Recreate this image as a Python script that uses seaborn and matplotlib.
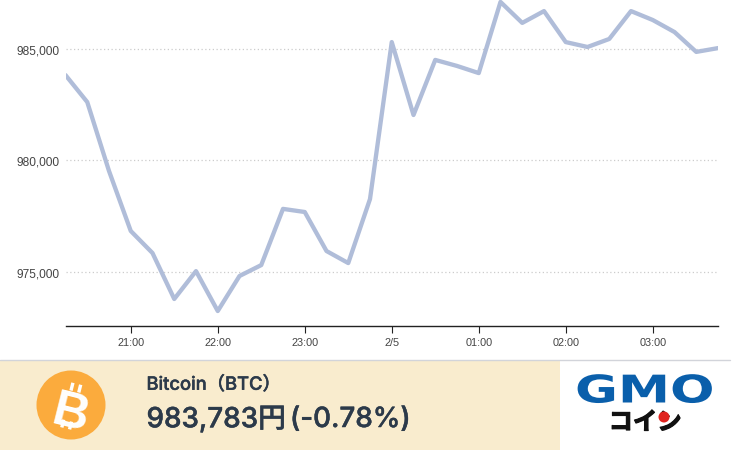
import matplotlib
matplotlib.use("Agg")
import matplotlib.pyplot as plt
import matplotlib.patheffects as pe
from matplotlib.patches import Circle, Rectangle
from matplotlib.transforms import Affine2D
import pandas as pd
import seaborn as sns

times = pd.date_range("2021-02-04 20:15", periods=31, freq="15min")
prices = [
    983830, 982620, 979530, 976840, 975850, 973790, 975040, 973250,
    974820, 975310, 977830, 977690, 975940, 975400, 978270, 985310,
    982040, 984510, 984240, 983920, 987110, 986170, 986700, 985310,
    985090, 985450, 986700, 986300, 985760, 984870, 985040,
]
xticks = pd.to_datetime([
    "2021-02-04 21:00", "2021-02-04 22:00", "2021-02-04 23:00", "2021-02-05 00:00",
    "2021-02-05 01:00", "2021-02-05 02:00", "2021-02-05 03:00",
])
xtick_labels = ["21:00", "22:00", "23:00", "2/5", "01:00", "02:00", "03:00"]
yticks = [975000, 980000, 985000]

W, H = 740, 460
JP = ["Inter", "Noto Sans CJK JP", "DejaVu Sans"]
INK = "#2c3a4a"


class Stretch(pe.AbstractPathEffect):
    # widen glyphs sideways, the text stays a text object
    def __init__(self, sx):
        super().__init__()
        self.sx = sx

    def draw_path(self, renderer, gc, tpath, affine, rgbFace=None):
        renderer.draw_path(gc, tpath, Affine2D().scale(self.sx, 1) + affine, rgbFace)


sns.set_theme(style="white", rc={"font.family": ["Liberation Sans", "DejaVu Sans"]})

fig = plt.figure(figsize=(W / 100, H / 100), dpi=100, facecolor="white")
ax = fig.add_axes([65.5 / W, (H - 327) / H, (718 - 65.5) / W, 327 / H])

df = pd.DataFrame({"time": times, "price": prices})
sns.lineplot(data=df, x="time", y="price", color="#b0bdd9", linewidth=3.1, ax=ax)

ax.set_xlim(times[0], times[-1])
ax.set_ylim(972578, 987242)
ax.set_xlabel("")
ax.set_ylabel("")
ax.set_xticks(xticks)
ax.set_xticklabels(xtick_labels)
ax.set_yticks(yticks)
ax.set_yticklabels([f"{v:,}" for v in yticks])
ax.tick_params(axis="x", length=5, width=0.8, color="#222222", labelsize=7.8, labelcolor="#444444", pad=3, bottom=True)
ax.tick_params(axis="y", length=0, labelsize=8.6, labelcolor="#444444", pad=4.5)
ax.grid(axis="y", color="#cccccc", linestyle=(0, (1, 2)), linewidth=0.9)
ax.set_axisbelow(True)
sns.despine(ax=ax, left=True)
ax.spines["bottom"].set_color("#222222")
ax.spines["bottom"].set_linewidth(1.0)

# bottom banner, in pixel coordinates
bar = fig.add_axes([0, 0, 1, 1], facecolor="none")
bar.set_xlim(0, W)
bar.set_ylim(H, 0)
bar.axis("off")
bar.add_patch(Rectangle((0, 361), 560, 90, color="#f9ecce", lw=0))
bar.plot([0, 730], [360.5, 360.5], color="#d2d4da", lw=1)

bar.add_patch(Circle((71, 406), 34.5, color="#fbab3d", lw=0))
bar.text(70.5, 406, "B", color="white", fontsize=36, fontweight="bold", family="Liberation Sans",
         rotation=-14, ha="center", va="center_baseline")
rot = Affine2D().rotate_deg_around(71, 406, 14) + bar.transData
for dx in (-3.5, 4.5):
    for top in (384, 422):
        bar.add_patch(Rectangle((71 + dx - 1.7, top), 3.4, 8, color="white", lw=0, transform=rot))

heavy = [pe.withStroke(linewidth=0.35, foreground=INK)]
bar.text(146.5, 386, "Bitcoin（BTC）", color=INK, fontsize=13.2, fontweight="medium", family=JP, va="center",
         path_effects=heavy)
bar.text(146.5, 421, "983,783円", color=INK, fontsize=20, fontweight="medium", family=JP, va="center",
         path_effects=heavy)
bar.text(290, 421, "(-0.78%)", color=INK, fontsize=20, fontweight="medium", family=JP, va="center",
         path_effects=heavy)

gmo = bar.text(575, 403.5, "GMO", color="#0a5fab", fontsize=27.5, fontweight="bold", family="DejaVu Sans",
               ha="left", va="baseline")
gmo.set_path_effects([Stretch(1.37)])
kana = bar.text(645, 424, "コイン", color="#111111", fontsize=17.5, fontweight="bold", family=JP, ha="center", va="center")
kana.set_path_effects([pe.withStroke(linewidth=0.8, foreground="#111111")])
bar.add_patch(Circle((664, 418), 5.5, color="#e0241f", lw=0, zorder=5))

fig.savefig("out.png", dpi=100)
